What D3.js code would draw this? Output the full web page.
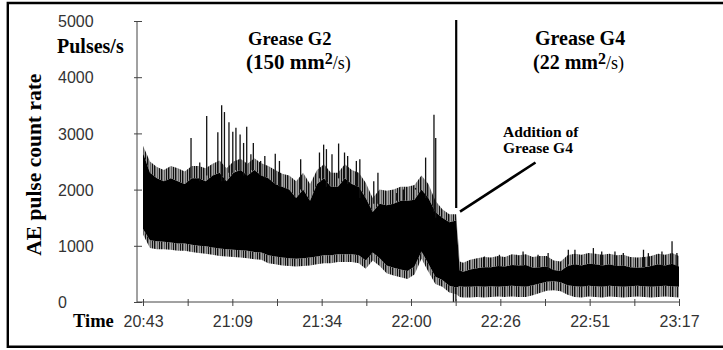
<!DOCTYPE html>
<html>
<head>
<meta charset="utf-8">
<script src="https://cdn.jsdelivr.net/npm/d3@7/dist/d3.min.js"></script>
<style>
body { margin: 0; background: #fff; }
</style>
</head>
<body>
<div id="chart"></div>
<script>
// minutes after 20:43
var minutes = [0,2,4,6,8,10,12,14,16,18,20,22,24,26,28,30,32,34,36,38,40,42,44,46,48,50,52,54,56,58,60,62,64,66,68,70,72,74,76,78,80,82,84,86,88,
	90,91,
	92,94,96,98,100,102,104,106,108,110,112,114,116,118,120,122,124,126,128,130,132,134,136,138,140,142,144,146,148,150,152,154]

// top of the solid black band (pulses/s)
var upperRate = [2650,2300,2200,2150,2200,2150,2100,2200,2200,2150,2250,2300,2150,2300,2350,2250,2350,2250,2200,2100,2050,2000,1850,2000,1800,2100,2200,2050,2050,2200,2100,2050,1850,1600,1750,1720,1750,1800,1800,1820,2000,1850,1600,1500,1420,
	1450,560,
	540,580,600,620,620,640,630,660,650,660,610,620,630,570,550,640,670,650,680,670,650,670,640,650,620,610,620,640,670,650,680,630]

// top of the short spikes fringe
var fringeRate = [2780,2500,2400,2350,2420,2380,2320,2420,2420,2380,2460,2520,2380,2500,2550,2460,2560,2470,2420,2350,2280,2250,2150,2300,2100,2350,2450,2300,2300,2450,2350,2300,2120,1850,2000,1980,2000,2050,2050,2080,2250,2100,1800,1650,1560,
	1560,720,
	700,750,780,800,790,820,800,850,830,850,800,820,820,740,720,830,860,840,870,860,840,860,830,840,800,790,800,820,860,840,870,820]

// bottom of the solid black band
var coreLowRate = [1300,1100,1080,1070,1060,1040,1040,1020,1000,990,970,950,940,930,920,910,890,880,830,810,790,780,770,780,790,810,830,830,850,850,850,830,740,880,780,650,610,580,550,630,900,680,450,390,290,
	260,280,
	270,270,280,270,280,270,280,290,280,270,300,330,360,370,350,300,280,270,290,280,270,290,280,270,280,290,280,270,280,290,280,270]

// lowest excursions
var lowerRate = [1200,960,940,940,930,910,910,890,870,860,840,820,810,800,790,780,760,750,690,670,650,640,630,640,650,670,690,690,710,710,710,690,590,740,640,510,470,440,410,490,770,540,320,270,170,
	140,90,
	80,80,90,80,90,100,90,100,90,90,120,160,200,210,190,130,90,80,100,90,80,100,90,80,90,100,90,80,90,100,90,80]

// tall isolated spikes
var spikeMinutes = [13.8,16.3,18.3,21.5,22.6,23.4,24.7,25.8,26.7,27.9,28.9,29.8,31.0,31.7,33.8,35.0,38.0,39.2,45.3,50.7,51.9,52.7,54.3,56.2,57.9,58.8,61.3,62.3,66.3,67.5,72.9,74.8,78.3,81.2,83.6,84.1,
	98.1,102.4,107.3,109.2,113.5,116.4,122.2,124.1,129.4,131.8,135.6,138.0,143.8,145.2,149.1,152.0,153.4]
var spikeRates = [2920,2480,3310,3020,3500,3380,3200,3030,3100,2980,2830,3120,2630,2830,2510,2600,2640,2510,2540,2660,2800,2720,2630,2820,2660,2600,2510,2540,2150,2300,1940,2000,2030,2570,3330,2920,
	810,840,840,900,840,870,930,930,960,900,900,870,930,870,900,1080,870]

var dipMinutes = [89.2, 89.9]
var dipRates = [0, 10]

var xTickCount = 13
var timeLabels = ['20:43', '21:09', '21:34', '22:00', '22:26', '22:51', '23:17']
var yTicks = [0, 1000, 2000, 3000, 4000, 5000]

var width = 723
var height = 350

var svg = d3.select('#chart')
	.append('svg')
	.attr('width', width)
	.attr('height', height)

var x = d3.scaleLinear().domain([0, 154]).range([143, 679])
var y = d3.scaleLinear().domain([0, 5000]).range([302, 21])

// uneven vertical hatching for the ragged edges of the signal
var defs = svg.append('defs')
var stripes = defs.append('pattern')
	.attr('id', 'stripes')
	.attr('patternUnits', 'userSpaceOnUse')
	.attr('width', 7)
	.attr('height', 8)
stripes.append('rect').attr('x', 0).attr('width', 1.6).attr('height', 8).attr('fill', '#111')
stripes.append('rect').attr('x', 2.6).attr('width', 1.1).attr('height', 8).attr('fill', '#222')
stripes.append('rect').attr('x', 4.6).attr('width', 1.8).attr('height', 8).attr('fill', '#111')

var rows = minutes.map(function (m, i) {
	return { m: m, up: upperRate[i], fr: fringeRate[i], core: coreLowRate[i], low: lowerRate[i] }
})

// frame
svg.append('path')
	.attr('d', 'M730,3H7.8V346.8H730')
	.attr('fill', 'none')
	.attr('stroke', '#000')
	.attr('stroke-width', 2.4)

var plot = svg.append('g')

plot.append('path')
	.datum(rows)
	.attr('d', d3.area().x(d => x(d.m)).y0(d => y(d.low)).y1(d => y(d.core)))
	.attr('fill', 'url(#stripes)')

plot.append('path')
	.datum(rows)
	.attr('d', d3.area().x(d => x(d.m)).y0(d => y(d.core)).y1(d => y(d.up)))
	.attr('fill', '#000')

plot.append('path')
	.datum(rows)
	.attr('d', d3.area().x(d => x(d.m)).y0(d => y(d.up)).y1(d => y(d.fr)))
	.attr('fill', 'url(#stripes)')

var bis = d3.bisector(d => d.m).left
function near(m) {
	var i = Math.min(bis(rows, m), rows.length - 1)
	return rows[i]
}

plot.selectAll('.spike')
	.data(spikeMinutes)
	.enter()
	.append('line')
	.attr('class', 'spike')
	.attr('x1', d => x(d))
	.attr('x2', d => x(d))
	.attr('y1', d => y(near(d).up))
	.attr('y2', (d, i) => y(spikeRates[i]))
	.attr('stroke', '#111')
	.attr('stroke-width', 1.3)

plot.selectAll('.dip')
	.data(dipMinutes)
	.enter()
	.append('line')
	.attr('class', 'dip')
	.attr('x1', d => x(d))
	.attr('x2', d => x(d))
	.attr('y1', d => y(near(d).core))
	.attr('y2', (d, i) => y(dipRates[i]))
	.attr('stroke', '#111')
	.attr('stroke-width', 1.3)

// axes
svg.append('line')
	.attr('x1', 137).attr('x2', 137)
	.attr('y1', y(5000)).attr('y2', y(0))
	.attr('stroke', '#444')
svg.append('line')
	.attr('x1', 137).attr('x2', x(154))
	.attr('y1', y(0)).attr('y2', y(0))
	.attr('stroke', '#444')

var gx = svg.append('g')
	.attr('transform', 'translate(0,' + y(0) + ')')
	.call(d3.axisBottom(x)
		.tickValues(d3.range(xTickCount).map(i => i * 154 / (xTickCount - 1)))
		.tickSize(0)
		.tickFormat((d, i) => i % 2 ? '' : timeLabels[i / 2]))
gx.select('.domain').remove()
gx.selectAll('.tick line').attr('y1', -3).attr('y2', 4).attr('stroke', '#444')
gx.selectAll('.tick text')
	.attr('y', 25).attr('dy', 0)
	.style('font-family', '"Liberation Sans", Arial, sans-serif')
	.style('font-size', '16px')
	.style('fill', '#333')

var gy = svg.append('g')
	.attr('transform', 'translate(137,0)')
	.call(d3.axisLeft(y).tickValues(yTicks).tickSize(0).tickFormat(d3.format('d')))
gy.select('.domain').remove()
gy.selectAll('.tick line').attr('x1', -3).attr('x2', 5).attr('stroke', '#444')
gy.selectAll('.tick text')
	.attr('x', 58 - 137).attr('dy', '0.36em')
	.attr('text-anchor', 'start')
	.style('font-family', '"Liberation Sans", Arial, sans-serif')
	.style('font-size', '16px')
	.style('fill', '#333')

var serif = '"Liberation Serif", "Times New Roman", serif'

svg.append('text')
	.attr('transform', 'translate(41,164.7) rotate(-90)')
	.attr('text-anchor', 'middle')
	.style('font-family', serif)
	.style('font-weight', 'bold')
	.style('font-size', '21.5px')
	.text('AE pulse count rate')

svg.append('text')
	.attr('x', 57).attr('y', 52.5)
	.style('font-family', serif)
	.style('font-weight', 'bold')
	.style('font-size', '20px')
	.text('Pulses/s')

svg.append('text')
	.attr('x', 73).attr('y', 327)
	.style('font-family', serif)
	.style('font-weight', 'bold')
	.style('font-size', '18.5px')
	.text('Time')

function gradeLabel(x0, name, visc, size, size2) {
	var g = svg.append('g')
		.style('font-family', serif)
		.style('font-weight', 'bold')
	g.append('text')
		.attr('x', x0).attr('y', 45)
		.style('font-size', size + 'px')
		.text(name)
	var t = g.append('text')
		.attr('x', x0 - 2).attr('y', 68.5)
		.style('font-size', size2 + 'px')
	t.append('tspan').text('(' + visc + ' mm')
	t.append('tspan').attr('dy', -4.5).style('font-size', '16px').text('2')
	t.append('tspan').attr('dy', 4.5)
		.style('font-weight', 'normal').style('font-size', '18px').text('/s)')
}
gradeLabel(248, 'Grease G2', '150', 18.5, 21)
gradeLabel(535, 'Grease G4', '22', 20, 20)

svg.append('text')
	.attr('x', 503).attr('y', 136.7)
	.style('font-family', serif)
	.style('font-weight', 'bold')
	.style('font-size', '15.5px')
	.text('Addition of')
svg.append('text')
	.attr('x', 503).attr('y', 153)
	.style('font-family', serif)
	.style('font-weight', 'bold')
	.style('font-size', '15.5px')
	.text('Grease G4')

svg.append('line')
	.attr('x1', 456.2).attr('x2', 456.2)
	.attr('y1', 20).attr('y2', 208)
	.attr('stroke', '#000')
	.attr('stroke-width', 2.2)
svg.append('line')
	.attr('x1', 460).attr('y1', 211.7)
	.attr('x2', 535.5).attr('y2', 162.5)
	.attr('stroke', '#000')
	.attr('stroke-width', 2.6)
</script>
</body>
</html>
